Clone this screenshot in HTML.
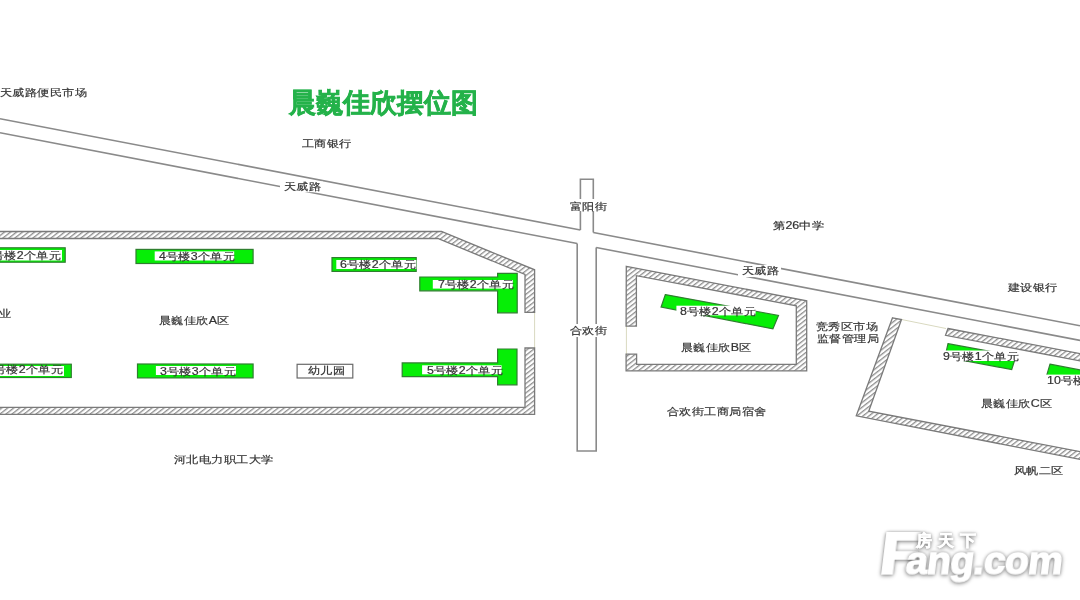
<!DOCTYPE html>
<html><head><meta charset="utf-8">
<style>
html,body{margin:0;padding:0;background:#fff;}
body{width:1080px;height:600px;position:relative;overflow:hidden;font-family:"Liberation Sans",sans-serif;}
svg{position:absolute;left:0;top:0;}
.t{position:absolute;font-size:11px;line-height:11px;color:#333;white-space:nowrap;transform:scale(1.13,0.93);transform-origin:0 0;-webkit-text-stroke:0.2px #333;}
.w{background:#fff;}
.title{position:absolute;left:289px;top:88px;font-size:27px;line-height:30px;font-weight:bold;color:#24b24a;white-space:nowrap;-webkit-text-stroke:0.6px #24b24a;}
.logo{position:absolute;color:#fff;font-weight:bold;white-space:nowrap;filter:drop-shadow(0 1px 2px rgba(0,0,0,.42)) drop-shadow(0 0 1px rgba(0,0,0,.22));}
</style></head>
<body><div id="wrap" style="position:absolute;left:0;top:0;width:1080px;height:600px;filter:blur(0.35px)">
<svg width="1080" height="600" viewBox="0 0 1080 600">
<defs>
<pattern id="h" patternUnits="userSpaceOnUse" width="3.7" height="10" patternTransform="rotate(52)">
<rect width="3.7" height="10" fill="#fff"/>
<rect x="0" y="0" width="1.3" height="10" fill="#8e8e8e"/>
</pattern>
</defs>
<g fill="none" stroke="#8a8a8a" stroke-width="1.6">
<!-- Tianwei road top line -->
<polyline points="0,118.7 580.4,230"/>
<polyline points="593.3,232.5 1080,325.8"/>
<!-- bottom line -->
<polyline points="0,132.7 577.2,243.5"/>
<polyline points="596.2,247.5 1080,340.4"/>
<!-- Fuyang street upper -->
<polyline points="580.4,230 580.4,179.3 593.3,179.3 593.3,232.5"/>
<!-- Hehuan street lower -->
<polyline points="577.2,243.5 577.2,451 596.2,451 596.2,247.5"/>
</g>
<!-- Faint opening lines -->
<g stroke="#d9d9c0" stroke-width="1">
<line x1="534.6" y1="312" x2="534.6" y2="348"/>
<line x1="626.4" y1="326" x2="626.4" y2="354"/>
<line x1="901.5" y1="319.5" x2="946" y2="328.5"/>
</g>
<!-- Walls -->
<g fill="url(#h)" stroke="#7a7a7a" stroke-width="1.3">
<polygon points="-10,231.5 441.5,231.5 534.6,269.8 534.6,312.4 525,312.4 525,274.4 437.8,238.5 -10,238.5"/>
<polygon points="534.6,348 534.6,414.4 -10,414.4 -10,407.4 525,407.4 525,348"/>
<polygon points="626.3,266.3 806.7,300.8 806.7,370.8 626.1,370.8 626.1,354.1 636.6,354.1 636.6,364.3 796.3,364.3 796.3,305.8 636.4,275.7 636.4,326.1 626.1,326.1"/>
<polygon points="892.5,317.8 901.5,319.5 868.75,411.25 1090,453.5 1090,461.3 856.25,415.8"/>
<polygon points="948,328.5 1090,355.5 1090,362.8 945.5,335.3"/>
</g>
<!-- Buildings -->
<g fill="#06ee06" stroke="#2f7f2f" stroke-width="1.2">
<rect x="-5" y="247.8" width="70.2" height="14.4"/>
<rect x="-5" y="364.2" width="76.3" height="13.3"/>
<rect x="136" y="249.4" width="117.1" height="14.1"/>
<rect x="137.5" y="364" width="115.6" height="13.9"/>
<rect x="332" y="257.6" width="84.2" height="13.8"/>
<polygon points="419.8,277 497.6,277 497.6,273.3 517.2,273.3 517.2,312.8 497.6,312.8 497.6,290.8 419.8,290.8"/>
<polygon points="402.2,362.9 497.6,362.9 497.6,349 517,349 517,384.8 497.6,384.8 497.6,376.7 402.2,376.7"/>
<polygon points="665.3,294.6 778.5,315.4 772.9,328.9 661.1,307.1"/>
<polygon points="948,343.7 1016,356 1011.7,369.6 945,357"/>
<polygon points="1050,364.2 1090,371.8 1090,385 1046.5,376"/>
</g>
<rect x="297.1" y="364.3" width="55.7" height="13.7" fill="#fff" stroke="#6a6a6a" stroke-width="1.2"/>
<rect x="-5" y="250" width="67" height="10.5" fill="#fff"/>
<rect x="-5" y="366" width="69" height="10" fill="#fff"/>
<rect x="154.7" y="251.4" width="79.5" height="9.1" fill="#fff"/>
<rect x="155.9" y="366" width="80.1" height="9" fill="#fff"/>
<rect x="336.3" y="260" width="80" height="9" fill="#fff"/>
<rect x="432.8" y="280" width="80" height="8.6" fill="#fff"/>
<rect x="422.1" y="365.3" width="79.5" height="9" fill="#fff"/>
<rect x="676.4" y="305.7" width="79.2" height="9.7" fill="#fff"/>
<rect x="944" y="350.5" width="74" height="10.5" fill="#fff"/>
<rect x="1045" y="374.6" width="40" height="20" fill="#fff"/>
<rect x="280" y="181.6" width="43" height="10.6" fill="#fff"/>
<rect x="570" y="199" width="38" height="12" fill="#fff"/>
<rect x="738" y="265" width="43" height="12" fill="#fff"/>
<rect x="570" y="324" width="38" height="13" fill="#fff"/>
</svg>

<div class="title">晨巍佳欣摆位图</div>
<div class="t" style="left:-15.0px;top:250.5px">1号楼2个单元</div>
<div class="t" style="left:-13.0px;top:365.3px">2号楼2个单元</div>
<div class="t" style="left:159.0px;top:251.5px">4号楼3个单元</div>
<div class="t" style="left:160.3px;top:366.5px">3号楼3个单元</div>
<div class="t" style="left:340.4px;top:259.7px">6号楼2个单元</div>
<div class="t" style="left:437.9px;top:280.1px">7号楼2个单元</div>
<div class="t" style="left:427.1px;top:366.0px">5号楼2个单元</div>
<div class="t" style="left:679.5px;top:306.5px">8号楼2个单元</div>
<div class="t" style="left:943.3px;top:351.5px">9号楼1个单元</div>
<div class="t" style="left:1047.0px;top:376.2px">10号楼2个单元</div>
<div class="t" style="left:308.0px;top:366.4px">幼儿园</div>
<div class="t" style="left:283.6px;top:181.7px">天威路</div>
<div class="t" style="left:570.3px;top:201.5px">富阳街</div>
<div class="t" style="left:742.1px;top:266.4px">天威路</div>
<div class="t" style="left:570.3px;top:325.5px">合欢街</div>
<div class="t" style="left:-0.1px;top:87.8px">天威路便民市场</div>
<div class="t" style="left:301.6px;top:138.8px">工商银行</div>
<div class="t" style="left:772.8px;top:221.4px">第26中学</div>
<div class="t" style="left:1008.0px;top:282.5px">建设银行</div>
<div class="t" style="left:-1.0px;top:308.5px">业</div>
<div class="t" style="left:159.0px;top:315.8px">晨巍佳欣A区</div>
<div class="t" style="left:680.7px;top:343.2px">晨巍佳欣B区</div>
<div class="t" style="left:815.7px;top:321.9px">竞秀区市场</div>
<div class="t" style="left:816.5px;top:334.4px">监督管理局</div>
<div class="t" style="left:666.5px;top:406.8px">合欢街工商局宿舍</div>
<div class="t" style="left:980.7px;top:398.7px">晨巍佳欣C区</div>
<div class="t" style="left:174.0px;top:454.7px">河北电力职工大学</div>
<div class="t" style="left:1013.5px;top:465.5px">风帆二区</div>

<!-- watermark -->
<div class="logo" style="left:877px;top:523.5px;font-size:58px;line-height:60px;-webkit-text-stroke:2.2px #fff;transform:skewX(-7deg) scaleX(1.1);transform-origin:0 100%">F</div>
<div class="logo" style="left:904px;top:541px;font-size:39px;line-height:40px;letter-spacing:-0.6px;-webkit-text-stroke:1.6px #fff;transform:skewX(-7deg);transform-origin:0 100%">ang.com</div>
<div class="logo" style="left:916px;top:532px;font-size:16px;line-height:18px;letter-spacing:6px;-webkit-text-stroke:0.6px #fff">房天下</div>
</div></body></html>
